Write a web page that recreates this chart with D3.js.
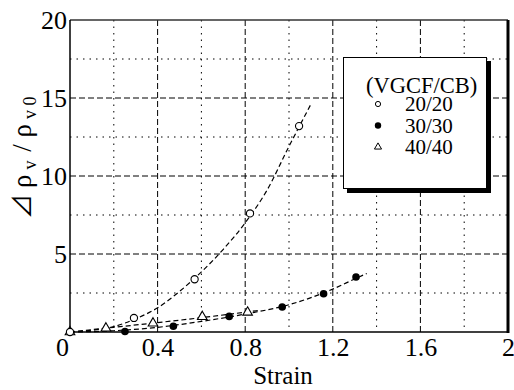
<!DOCTYPE html>
<html><head><meta charset="utf-8">
<script src="https://cdn.jsdelivr.net/npm/d3@7"></script>
<style>
body{margin:0;background:#fff}
svg{display:block}
</style>
</head><body><svg id="c" width="514" height="390" font-family="Liberation Serif"></svg>
<script>
// Measured points
const strain20 = [0, 0.292, 0.569, 0.822, 1.046];
const value20  = [0, 0.9, 3.38, 7.6, 13.2];
const strain30 = [0.251, 0.472, 0.727, 0.969, 1.158, 1.306];
const value30  = [0.03, 0.37, 1.0, 1.6, 2.45, 3.53];
const strain40 = [0, 0.164, 0.379, 0.604, 0.811];
const value40  = [0, 0.24, 0.56, 0.98, 1.26];
// Fitted (dashed) curves
const fit20x = [0, 0.2, 0.3, 0.4, 0.5, 0.6, 0.7, 0.8, 0.9, 1.0, 1.1];
const fit20y = [0, 0.35, 0.85, 1.55, 2.6, 3.85, 5.3, 7.0, 9.1, 11.9, 14.6];
const fit30x = [0, 0.2, 0.4, 0.6, 0.8, 1.0, 1.2, 1.3, 1.355];
const fit30y = [0, 0.08, 0.3, 0.68, 1.15, 1.75, 2.75, 3.4, 3.75];
const fit40x = [0, 0.2, 0.4, 0.6, 0.86];
const fit40y = [0, 0.3, 0.6, 0.92, 1.38];
const xTicks = [0, 0.4, 0.8, 1.2, 1.6, 2];
const xTickLabels = ["0", "0.4", "0.8", "1.2", "1.6", "2"];
const xMinor = [0.2, 0.6, 1.0, 1.4, 1.8];
const yTicks = [0, 5, 10, 15, 20];
const yTickLabels = [5, 10, 15, 20];
const yMinor = [2.5, 7.5, 12.5, 17.5];
const legendTitle = "(VGCF/CB)";
const legendLabels = ["20/20", "30/30", "40/40"];

const SERIF = "Liberation Serif";
const svg = d3.select("#c");
const L = 70, R = 508, T = 20, B = 332;
const x = d3.scaleLinear().domain([0, 2]).range([L, R]);
const y = d3.scaleLinear().domain([0, 20]).range([B, T]);

// grid
const g = svg.append("g");
g.selectAll(".vmaj").data(xTicks.slice(1, -1)).join("line")
  .attr("x1", d => x(d)).attr("x2", d => x(d)).attr("y1", T).attr("y2", B)
  .attr("stroke", "#000").attr("stroke-width", 1).attr("stroke-dasharray", "6,3");
g.selectAll(".vmin").data(xMinor).join("line")
  .attr("x1", d => x(d)).attr("x2", d => x(d)).attr("y1", T).attr("y2", B)
  .attr("stroke", "#000").attr("stroke-width", 1).attr("stroke-dasharray", "1.5,5");
g.selectAll(".hmaj").data(yTicks.slice(1, -1)).join("line")
  .attr("y1", d => y(d)).attr("y2", d => y(d)).attr("x1", L).attr("x2", R)
  .attr("stroke", "#000").attr("stroke-width", 1).attr("stroke-dasharray", "6,3");
g.selectAll(".hmin").data(yMinor).join("line")
  .attr("y1", d => y(d)).attr("y2", d => y(d)).attr("x1", L).attr("x2", R)
  .attr("stroke", "#000").attr("stroke-width", 1).attr("stroke-dasharray", "1.5,5");

// frame
svg.append("line").attr("x1", L).attr("x2", R).attr("y1", T).attr("y2", T).attr("stroke", "#333").attr("stroke-width", 1.5);
svg.append("line").attr("x1", L).attr("x2", L).attr("y1", T).attr("y2", B).attr("stroke", "#000").attr("stroke-width", 1.5);
svg.append("line").attr("x1", L).attr("x2", R).attr("y1", B).attr("y2", B).attr("stroke", "#000").attr("stroke-width", 1.5);
svg.append("line").attr("x1", R).attr("x2", R).attr("y1", T).attr("y2", B + 1).attr("stroke", "#000").attr("stroke-width", 3);

// axes labels via d3 axes
const xAxis = d3.axisBottom(x).tickValues(xTicks).tickFormat((d, i) => xTickLabels[i]).tickSize(0).tickPadding(6);
const xa = svg.append("g").attr("transform", `translate(0,${B})`).call(xAxis);
xa.attr("font-family", SERIF).attr("font-size", 26);
xa.select(".domain").remove();
xa.selectAll("text").attr("font-family", SERIF).attr("font-size", 26).attr("fill", "#000")
  .attr("dx", (d, i) => i === 0 ? -8 : 0);
const yAxis = d3.axisLeft(y).tickValues(yTickLabels).tickSize(0).tickPadding(3);
const ya = svg.append("g").attr("transform", `translate(${L},0)`).call(yAxis);
ya.attr("font-family", SERIF).attr("font-size", 26);
ya.select(".domain").remove();
ya.selectAll("text").attr("font-family", SERIF).attr("font-size", 26).attr("fill", "#000");

svg.append("text").attr("x", x(1) - 6).attr("y", 384).attr("text-anchor", "middle")
  .attr("font-family", SERIF).attr("font-size", 25).text("Strain");

// y label
const yl = svg.append("text").attr("transform", "translate(31,219) rotate(-90)")
  .attr("font-family", SERIF).attr("font-size", 27);
yl.append("tspan").attr("font-family", "Noto Sans CJK JP").attr("font-size", 25).text("⊿");
yl.append("tspan").attr("dx", 6).text("ρ");
yl.append("tspan").attr("font-size", 18).attr("dy", 5).attr("dx", 5).text("v");
yl.append("tspan").attr("dy", -5).attr("dx", 2).text(" / ρ");
yl.append("tspan").attr("font-size", 18).attr("dy", 5).attr("dx", 5).text("v 0");

// curves
const line = d3.line().x(d => x(d[0])).y(d => y(d[1])).curve(d3.curveMonotoneX);
const fits = [[fit20x, fit20y], [fit30x, fit30y], [fit40x, fit40y]];
fits.forEach(([fx, fy]) => {
  svg.append("path").datum(fx.map((v, i) => [v, fy[i]])).attr("d", line)
    .attr("fill", "none").attr("stroke", "#000").attr("stroke-width", 1.2).attr("stroke-dasharray", "5,3");
});

// markers
const tri = d3.symbol().type(d3.symbolTriangle);
svg.selectAll(".p40").data(strain40.map((v, i) => [v, value40[i]])).join("path")
  .attr("d", tri.size(40)).attr("transform", d => `translate(${x(d[0])},${y(d[1])})`)
  .attr("fill", "#fff").attr("stroke", "#000").attr("stroke-width", 1.1);
svg.selectAll(".p20").data(strain20.map((v, i) => [v, value20[i]])).join("circle")
  .attr("cx", d => x(d[0])).attr("cy", d => y(d[1])).attr("r", 3.6)
  .attr("fill", "#fff").attr("stroke", "#000").attr("stroke-width", 1.1);
svg.selectAll(".p30").data(strain30.map((v, i) => [v, value30[i]])).join("circle")
  .attr("cx", d => x(d[0])).attr("cy", d => y(d[1])).attr("r", 3.8).attr("fill", "#000");

// legend
const lg = svg.append("g");
lg.append("rect").attr("x", 347).attr("y", 61).attr("width", 144).attr("height", 132).attr("fill", "#000");
lg.append("rect").attr("x", 343.5).attr("y", 57.5).attr("width", 143).attr("height", 131)
  .attr("fill", "#fff").attr("stroke", "#000").attr("stroke-width", 1);
lg.append("text").attr("x", 366).attr("y", 93).attr("font-family", SERIF).attr("font-size", 22.5).text(legendTitle);
const rowY = [111, 132.5, 154];
legendLabels.forEach((t, i) => {
  lg.append("text").attr("x", 405).attr("y", rowY[i]).attr("font-family", SERIF).attr("font-size", 21).text(t);
});
lg.append("circle").attr("cx", 378).attr("cy", rowY[0] - 7).attr("r", 2.6).attr("fill", "#fff").attr("stroke", "#000").attr("stroke-width", 1);
lg.append("circle").attr("cx", 378).attr("cy", rowY[1] - 7).attr("r", 3.2).attr("fill", "#000");
lg.append("path").attr("d", tri.size(22)).attr("transform", `translate(378,${rowY[2] - 7})`).attr("fill", "#fff").attr("stroke", "#000").attr("stroke-width", 1);
</script></body></html>
